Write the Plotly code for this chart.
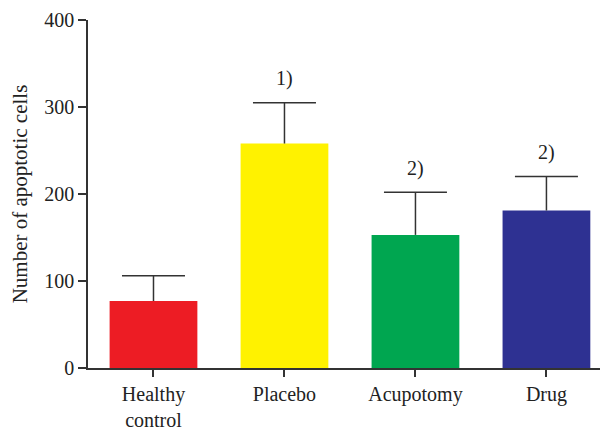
import plotly.graph_objects as go

categories = ["Healthy<br>control", "Placebo", "Acupotomy", "Drug"]
means = [77, 258, 153, 181]
errors = [29, 47, 49, 39]
colors = ["#ED1C24", "#FFF200", "#00A650", "#2E3192"]
marks = ["", "1)", "2)", "2)"]

xs = list(range(len(categories)))
tops = [m + e for m, e in zip(means, errors)]

fig = go.Figure()
fig.add_trace(go.Bar(
    x=xs, y=means,
    marker=dict(color=colors, line=dict(width=0)),
    width=0.67,
))
stem_x, stem_y = [], []
for x, m, t in zip(xs, means, tops):
    stem_x += [x, x, None]
    stem_y += [m, t, None]
fig.add_trace(go.Scatter(x=stem_x, y=stem_y, mode="lines",
                         line=dict(color="#333333", width=1.5), hoverinfo="skip"))
fig.add_trace(go.Scatter(x=xs, y=tops, mode="markers",
                         marker=dict(symbol="line-ew", size=45, color="#333333",
                                     line=dict(color="#333333", width=1.5)),
                         hoverinfo="skip"))
for i, (t, m) in enumerate(zip(tops, marks)):
    if m:
        fig.add_annotation(x=i, y=t, text=m, showarrow=False, yanchor="middle", yshift=24,
                           font=dict(family="Liberation Serif", size=20, color="#222222"))

fig.update_layout(
    width=600, height=422,
    margin=dict(l=80, r=0, t=12, b=62),
    plot_bgcolor="white", paper_bgcolor="white",
    showlegend=False,
    font=dict(family="Liberation Serif", size=20, color="#222222"),
)
fig.update_xaxes(
    range=[-0.5, 3.47], tickmode="array", tickvals=xs, ticktext=categories,
    showline=True, linecolor="#333333", linewidth=1.5, ticks="outside", ticklen=7, tickwidth=1.5,
    tickcolor="#333333", showgrid=False, zeroline=False, automargin=False,
    tickfont=dict(size=20), ticklabelstandoff=0,
)
fig.update_yaxes(
    range=[0, 400], tickvals=[0, 100, 200, 300, 400],
    showline=True, linecolor="#333333", linewidth=1.5, ticks="outside", ticklen=8, tickwidth=1.5,
    tickcolor="#333333", showgrid=False, zeroline=False, automargin=False,
    title=dict(text="Number of apoptotic cells", font=dict(size=21), standoff=15),
)
fig.write_html("out.html")
